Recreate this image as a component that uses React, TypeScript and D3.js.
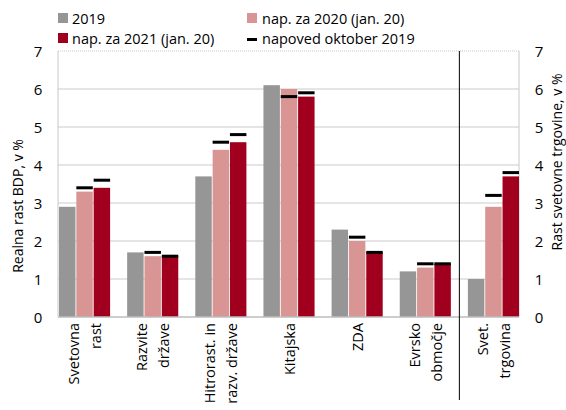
import * as d3 from "d3";

const categories = [
  "Svetovna\nrast",
  "Razvite\ndržave",
  "Hitrorast. in\nrazv. države",
  "Kitajska",
  "ZDA",
  "Evrsko\nobmočje",
  "Svet.\ntrgovina",
];
const v2019 = [2.9, 1.7, 3.7, 6.1, 2.3, 1.2, 1.0];
const v2020 = [3.3, 1.6, 4.4, 6.0, 2.0, 1.3, 2.9];
const v2021 = [3.4, 1.6, 4.6, 5.8, 1.7, 1.4, 3.7];
const oct2020 = [3.4, 1.7, 4.6, 5.8, 2.1, 1.4, 3.2];
const oct2021 = [3.6, 1.6, 4.8, 5.9, 1.7, 1.4, 3.8];
const yTicks = [0, 1, 2, 3, 4, 5, 6, 7];

const colors = { y2019: "#969696", y2020: "#d99594", y2021: "#a0001e" };
const font = "'Open Sans', 'Noto Sans', sans-serif";

const W = 566;
const H = 410;
const left = 58;
const right = 519;
const top = 51;
const bottom = 317;

export default function App() {
  const x = d3
    .scaleBand<number>()
    .domain(categories.map((_, i) => i))
    .range([left + 1, right])
    .paddingInner(0.25)
    .paddingOuter(0);
  const inner = d3
    .scaleBand<string>()
    .domain(["a", "b", "c"])
    .range([0, x.bandwidth()])
    .paddingInner(0.05);
  const y = d3.scaleLinear().domain([0, 7]).range([bottom, top]);

  const series = [
    { key: "a", vals: v2019, color: colors.y2019, marks: null as number[] | null },
    { key: "b", vals: v2020, color: colors.y2020, marks: oct2020 },
    { key: "c", vals: v2021, color: colors.y2021, marks: oct2021 },
  ];

  const sepX = (x(5)! + x.bandwidth() + x(6)!) / 2;

  return (
    <svg width={W} height={H} style={{ position: "absolute", left: 0, top: 0 }} fontFamily={font}>
      <rect width={W} height={H} fill="#fff" />
      {/* legend */}
      <g fontSize={14.5} fill="#000">
        <rect x={58} y={13} width={10} height={10} fill={colors.y2019} />
        <text x={72} y={24}>2019</text>
        <rect x={247} y={13} width={10} height={10} fill={colors.y2020} />
        <text x={262} y={24}>nap. za 2020 (jan. 20)</text>
        <rect x={58} y={33} width={10} height={10} fill={colors.y2021} />
        <text x={72} y={44}>nap. za 2021 (jan. 20)</text>
        <rect x={247} y={38} width={10} height={3} fill="#000" />
        <text x={262} y={44}>napoved oktober 2019</text>
      </g>
      {/* grid */}
      {yTicks.slice(1, 7).map((t) => (
        <line key={t} x1={left} x2={right} y1={y(t)} y2={y(t)} stroke="#cccccc" strokeWidth={1.2} />
      ))}
      <line x1={left} x2={right} y1={top} y2={top} stroke="#c8c8c8" strokeDasharray="1 1" />
      <line x1={left} x2={left} y1={top} y2={bottom} stroke="#c8c8c8" />
      <line x1={right} x2={right} y1={top} y2={bottom} stroke="#c8c8c8" />
      {/* bars */}
      {series.map((s) =>
        s.vals.map((v, i) => (
          <rect
            key={s.key + i}
            x={x(i)! + inner(s.key)!}
            y={y(v)}
            width={inner.bandwidth()}
            height={y(0) - y(v)}
            fill={s.color}
          />
        ))
      )}
      {/* october markers */}
      {series.map((s) =>
        s.marks
          ? s.marks.map((v, i) => (
              <rect
                key={"m" + s.key + i}
                x={x(i)! + inner(s.key)!}
                y={y(v) - 1.5}
                width={inner.bandwidth()}
                height={3}
                fill="#000"
              />
            ))
          : null
      )}
      <line x1={left} x2={right} y1={bottom} y2={bottom} stroke="#bdbdbd" strokeWidth={1.5} />
      <line x1={sepX} x2={sepX} y1={top} y2={400} stroke="#000" strokeWidth={1} />
      {/* y axes */}
      <g fontSize={15} textAnchor="middle" dominantBaseline="central">
        {yTicks.map((t) => (
          <text key={"l" + t} x={38} y={y(t)}>{t}</text>
        ))}
        {yTicks.map((t) => (
          <text key={"r" + t} x={539} y={y(t)}>{t}</text>
        ))}
      </g>
      <text
        transform={`translate(17,206) rotate(-90)`}
        fontSize={14}
        textAnchor="middle"
        dominantBaseline="central"
      >
        Realna rast BDP, v %
      </text>
      <text
        transform={`translate(556,162) rotate(-90)`}
        fontSize={14}
        textAnchor="middle"
        dominantBaseline="central"
      >
        Rast svetovne trgovine, v %
      </text>
      {/* category labels */}
      {categories.map((c, i) => {
        const lines = c.split("\n");
        const cx = x(i)! + x.bandwidth() / 2;
        return lines.map((ln, j) => {
          const off = lines.length === 1 ? 0 : j === 0 ? -11 : 11;
          return (
            <text
              key={c + j}
              transform={`translate(${cx + off},323) rotate(-90)`}
              fontSize={14.5}
              textAnchor="end"
              dominantBaseline="central"
            >
              {ln}
            </text>
          );
        });
      })}
    </svg>
  );
}
